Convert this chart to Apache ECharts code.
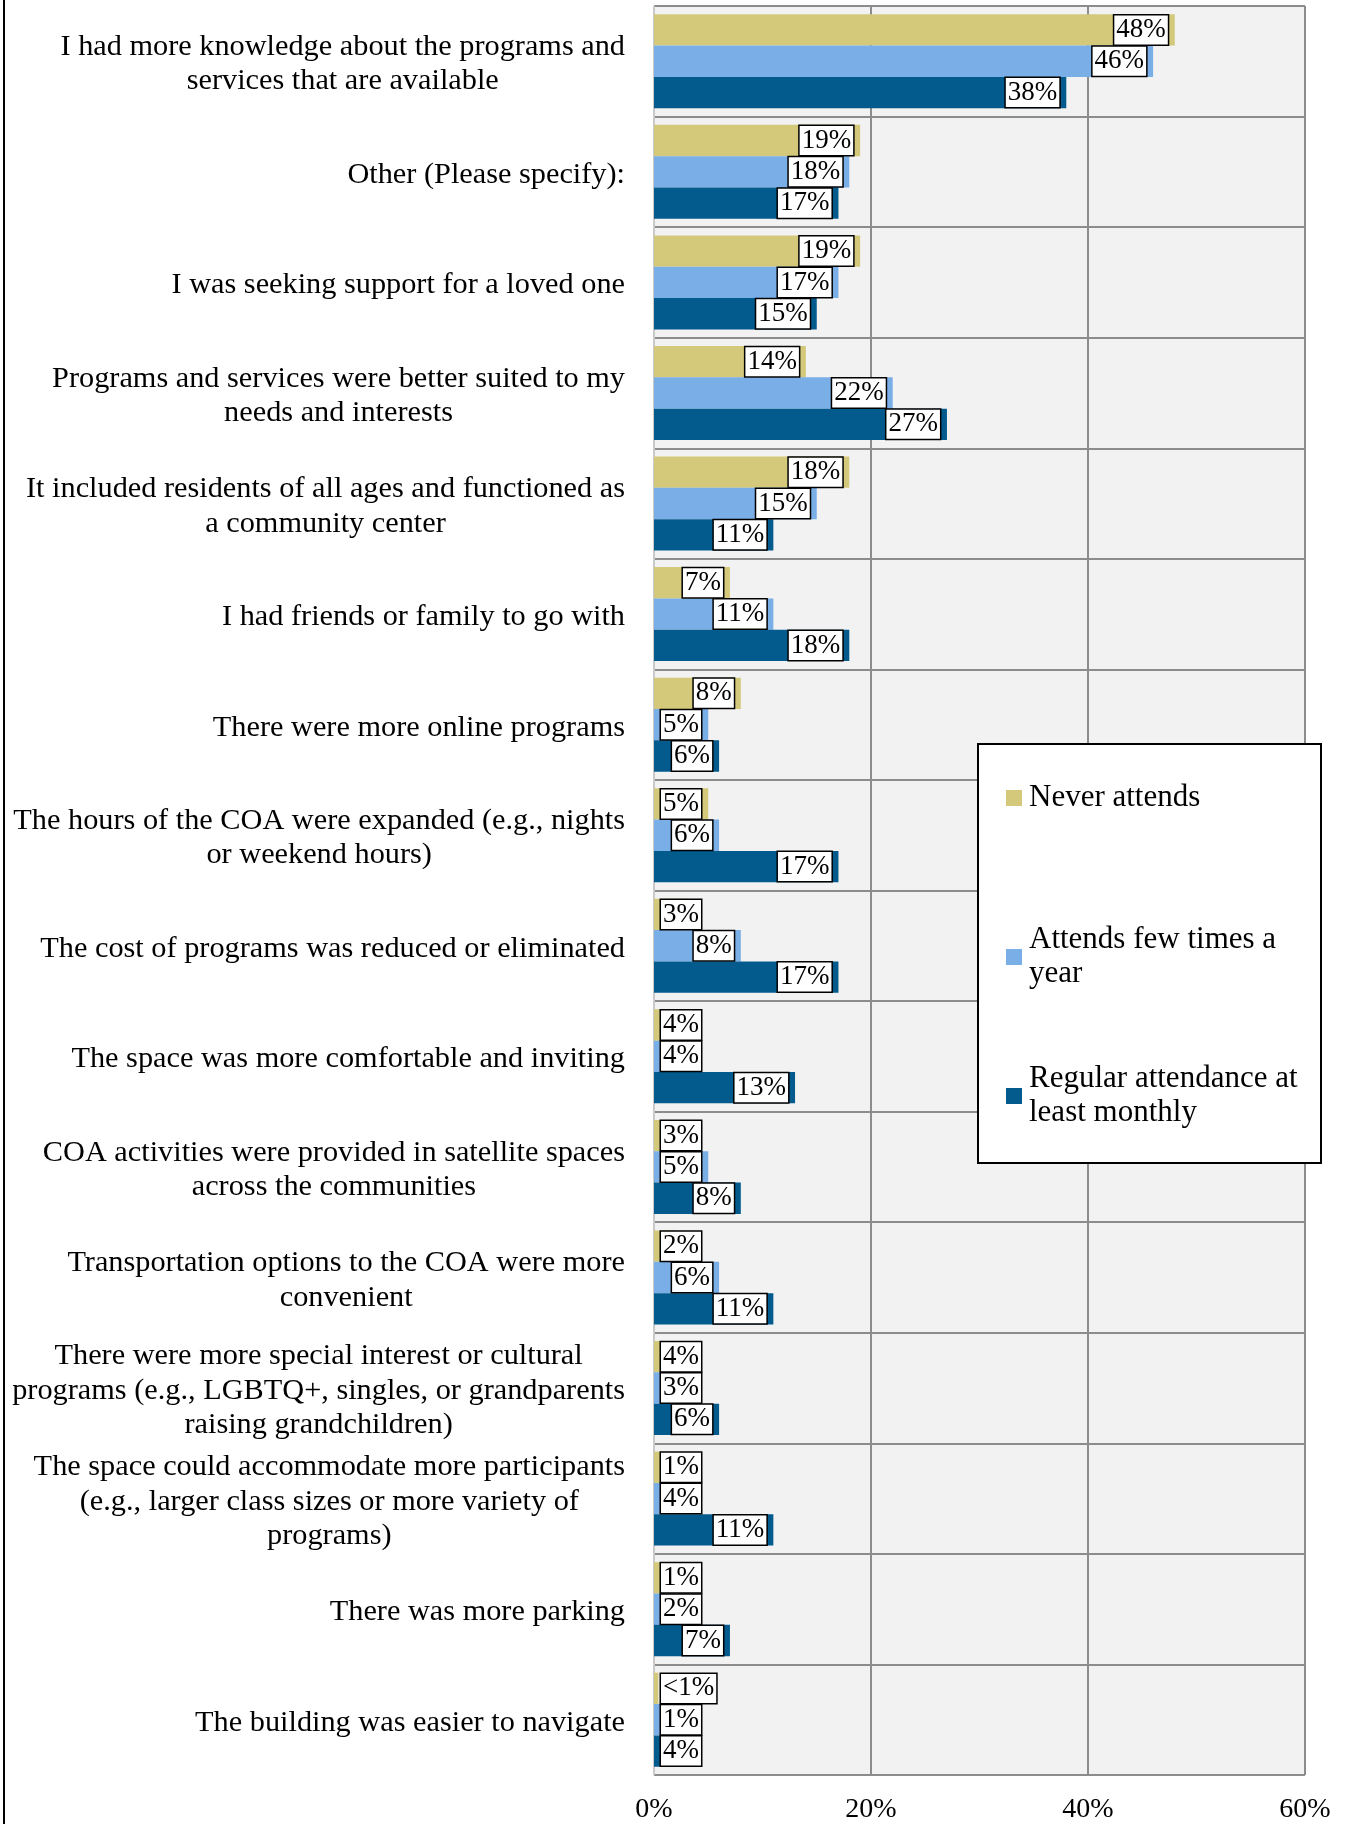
<!DOCTYPE html>
<html>
<head>
<meta charset="utf-8">
<script src="https://cdn.jsdelivr.net/npm/echarts@6/dist/echarts.min.js"></script>
<style>
  html, body { margin: 0; padding: 0; background: #ffffff; }
  #chart { width: 1346px; height: 1824px; }
</style>
</head>
<body>
<div id="chart"></div>
<script>
// Reasons that would make respondents more likely to use the COA, by attendance group
const categories = [
  'I had more knowledge about the programs and\nservices that are available',
  'Other (Please specify):',
  'I was seeking support for a loved one',
  'Programs and services were better suited to my\nneeds and interests',
  'It included residents of all ages and functioned as\na community center',
  'I had friends or family to go with',
  'There were more online programs',
  'The hours of the COA were expanded (e.g., nights\nor weekend hours)',
  'The cost of programs was reduced or eliminated',
  'The space was more comfortable and inviting',
  'COA activities were provided in satellite spaces\nacross the communities',
  'Transportation options to the COA were more\nconvenient',
  'There were more special interest or cultural\nprograms (e.g., LGBTQ+, singles, or grandparents\nraising grandchildren)',
  'The space could accommodate more participants\n(e.g., larger class sizes or more variety of\nprograms)',
  'There was more parking',
  'The building was easier to navigate'
];

const seriesNames = [
  'Never attends',
  'Attends few times a year',
  'Regular attendance at least monthly'
];
const legendLabels = [
  'Never attends',
  'Attends few times a\nyear',
  'Regular attendance at\nleast monthly'
];

// percent of respondents (values under 1% are shown as "<1%")
const neverAttends   = [48, 19, 19, 14, 18, 7, 8, 5, 3, 4, 3, 2, 4, 1, 1, 0.4];
const fewTimesYear   = [46, 18, 17, 22, 15, 11, 5, 6, 8, 4, 5, 6, 3, 4, 2, 1];
const regularMonthly = [38, 17, 15, 27, 11, 18, 6, 17, 17, 13, 8, 11, 6, 11, 7, 4];

const xTickValues = [0, 20, 40, 60];
const barColors = ['#d4c97a', '#7aaee6', '#035a8c'];

const FONT = '"Liberation Serif", "Times New Roman", serif';
const GRID = { left: 654, right: 41, top: 6, bottom: 47 };
const PLOT_W = 1346 - GRID.left - GRID.right;
const X_MAX = xTickValues[xTickValues.length - 1];

const CAT_FONT_SIZE = 30.3;
const VALUE_FONT_SIZE = 27;
const LABEL_PAD_X = 2;
const LABEL_BORDER = 1.5;
const LABEL_DIST = 7;

const measureCtx = document.createElement('canvas').getContext('2d');
function textWidth(str, size) {
  measureCtx.font = size + 'px ' + FONT;
  return measureCtx.measureText(str).width;
}

function pct(v) {
  return v < 1 ? '<1%' : v + '%';
}

// Put the value box at the bar's end, or hold it at the axis when the bar is too short
function labelPlacement(v) {
  const boxW = textWidth(pct(v), VALUE_FONT_SIZE) + 2 * LABEL_PAD_X + 2 * LABEL_BORDER;
  const barPx = v / X_MAX * PLOT_W;
  const fits = barPx - LABEL_DIST - boxW >= LABEL_DIST;
  return { position: fits ? 'insideRight' : 'insideLeft' };
}

const seriesValues = [neverAttends, fewTimesYear, regularMonthly];

const series = seriesNames.map((name, i) => ({
  name: name,
  type: 'bar',
  barGap: '0%',
  barCategoryGap: '15%',
  itemStyle: { color: barColors[i] },
  emphasis: { disabled: true },
  label: {
    show: true,
    distance: LABEL_DIST,
    formatter: p => pct(p.value),
    fontFamily: FONT,
    fontSize: VALUE_FONT_SIZE,
    lineHeight: 28,
    color: '#000',
    backgroundColor: '#ffffff',
    borderColor: '#000000',
    borderWidth: LABEL_BORDER,
    padding: [1, LABEL_PAD_X, 0, LABEL_PAD_X]
  },
  data: seriesValues[i].map(v => ({ value: v, label: labelPlacement(v) }))
}));

// Spread the legend entries out so each icon sits level with its first text line
const LEGEND_LINE = 34;
const legendData = seriesNames.map((name, i) => {
  const lines = legendLabels[i].split('\n').length;
  const pad = lines === 1
    ? [54, 0, 54, 2]
    : [LEGEND_LINE, 0, 0, 2];
  return { name: name, textStyle: { padding: pad } };
});

const chart = echarts.init(document.getElementById('chart'), null, { renderer: 'canvas' });

chart.setOption({
  animation: false,
  backgroundColor: '#ffffff',
  grid: {
    left: GRID.left, right: GRID.right, top: GRID.top, bottom: GRID.bottom,
    show: true, backgroundColor: '#f2f2f2', borderWidth: 0
  },
  xAxis: {
    type: 'value',
    min: 0,
    max: X_MAX,
    interval: 20,
    axisLine: { show: false },
    axisTick: { show: false },
    axisLabel: {
      margin: 21,
      fontFamily: FONT,
      fontSize: 28,
      color: '#000',
      formatter: '{value}%'
    },
    splitLine: {
      show: true,
      lineStyle: { color: ['#c9c9c9', '#8c8c8c', '#8c8c8c', '#8c8c8c'], width: 2 }
    }
  },
  yAxis: {
    type: 'category',
    inverse: true,
    data: categories,
    axisLine: { show: false },
    axisTick: { show: false },
    splitLine: {
      show: true,
      interval: 0,
      lineStyle: { color: '#8c8c8c', width: 2 }
    },
    axisLabel: {
      interval: 0,
      margin: 29,
      fontFamily: FONT,
      fontSize: CAT_FONT_SIZE,
      lineHeight: 34.5,
      color: '#000',
      formatter: v => '{c|' + v + '}',
      rich: {
        c: {
          align: 'center', fontFamily: FONT, fontSize: CAT_FONT_SIZE,
          lineHeight: 34.5, color: '#000', padding: [6, 0, 0, 0]
        }
      }
    }
  },
  legend: {
    orient: 'vertical',
    left: 1006,
    top: 727,
    padding: 0,
    itemGap: 37,
    itemWidth: 16,
    itemHeight: 16,
    icon: 'rect',
    selectedMode: false,
    data: legendData,
    formatter: name => legendLabels[seriesNames.indexOf(name)],
    textStyle: { fontFamily: FONT, fontSize: 31, lineHeight: LEGEND_LINE, color: '#000' }
  },
  graphic: [
    {
      type: 'rect',
      z: 3,
      shape: { x: 978, y: 744, width: 343, height: 419 },
      style: { fill: '#ffffff', stroke: '#000000', lineWidth: 2 }
    },
    {
      type: 'line',
      z: 3,
      shape: { x1: 4, y1: 0, x2: 4, y2: 1824 },
      style: { stroke: '#000000', lineWidth: 2 }
    }
  ],
  series: series
});
</script>
</body>
</html>
